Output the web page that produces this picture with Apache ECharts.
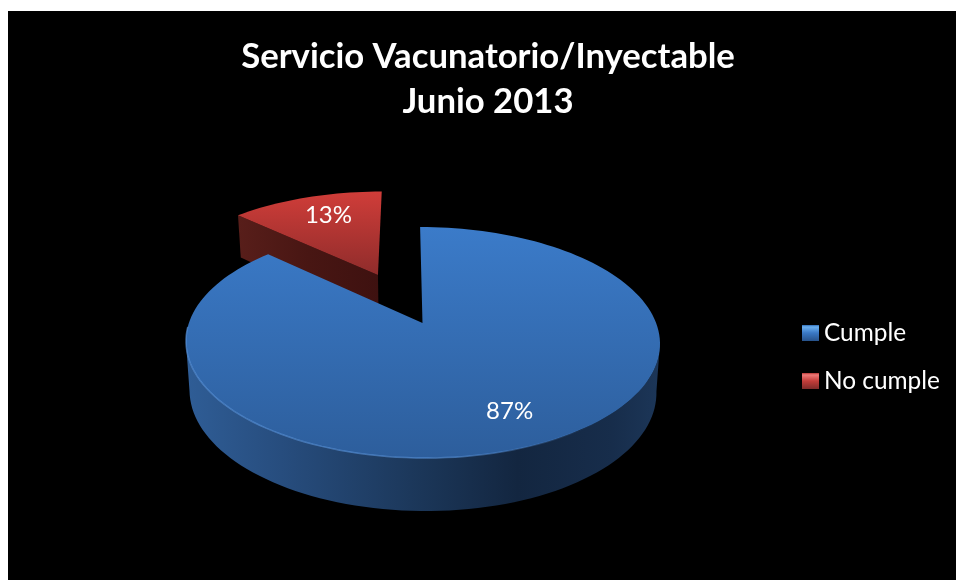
<!DOCTYPE html>
<html>
<head>
<meta charset="utf-8">
<style>
html, body { margin: 0; padding: 0; background: #fff; }
#main { width: 956px; height: 580px; }
</style>
<script src="https://cdn.jsdelivr.net/npm/echarts@6/dist/echarts.min.js"></script>
</head>
<body>
<div id="main"></div>
<script>
var titleText = "Servicio Vacunatorio/Inyectable\nJunio 2013";
var categories = ["Cumple", "No cumple"];
var values = [87, 13];

var FONT = "Lato, Carlito, 'Open Sans', sans-serif";

// disc seen in perspective: the back radius is shorter than the front one
var cx = 422.5, apexY = 323, A = 233.6, B = 112.2, K = 0.169, SHEAR = 0.025;
// pull-out of each slice on the disc plane
var explode = [[0, 0], [-0.2, -0.461]];
var total = values[0] + values[1];

function project(u, v, lower) {
  var w = 1 - K * v;
  var y = apexY + (B * v) / w;
  var x = cx + (A * u) / w + SHEAR * (y - apexY);
  if (lower) {
    x = cx + (x - cx) * 0.985;
    y += 48 + 5 * v;
  }
  return [x, y];
}

// angle in degrees, clockwise from the top of the disc
function rim(deg, off, lower) {
  var t = (deg * Math.PI) / 180;
  return project(off[0] + Math.sin(t), off[1] - Math.cos(t), lower);
}

function arc(from, to, off, lower) {
  var pts = [];
  var n = Math.ceil(Math.abs(to - from) / 2);
  for (var i = 0; i <= n; i++) {
    pts.push(rim(from + ((to - from) * i) / n, off, lower));
  }
  return pts;
}

function hGrad(stops) {
  return new echarts.graphic.LinearGradient(0, 0, 1, 0, stops);
}
function vGrad(stops) {
  return new echarts.graphic.LinearGradient(0, 0, 0, 1, stops);
}

function sliceRange(index) {
  var start = 0;
  for (var i = 0; i < index; i++) start += (values[i] / total) * 360;
  return [start, start + (values[index] / total) * 360];
}

function labelOf(value, off, mid, r, dx) {
  var t = (mid * Math.PI) / 180;
  var p = project(off[0] + r * Math.sin(t), off[1] - r * Math.cos(t));
  return {
    type: "text",
    z2: 10,
    style: {
      text: value + "%",
      x: p[0] + dx,
      y: p[1],
      fill: "#fff",
      font: "24px " + FONT,
      align: "center",
      verticalAlign: "middle"
    }
  };
}

function renderCumple(params, api) {
  var range = sliceRange(0);
  var off = explode[0];
  var side = (Math.acos(-K) * 180) / Math.PI;
  var apex = project(off[0], off[1]);
  var wall = arc(side, 360 - side, off).concat(arc(360 - side, side, off, true));
  var top = [apex].concat(arc(range[0], range[1], off));
  return {
    type: "group",
    children: [
      {
        type: "polygon",
        shape: { points: wall },
        style: {
          fill: hGrad([
            { offset: 0, color: "#2f5d96" },
            { offset: 0.2, color: "#274d7e" },
            { offset: 0.5, color: "#1b3658" },
            { offset: 0.7, color: "#132640" },
            { offset: 0.9, color: "#172d4b" },
            { offset: 1, color: "#1c3658" }
          ])
        }
      },
      {
        type: "polygon",
        shape: { points: top },
        style: {
          fill: vGrad([
            { offset: 0, color: "#3b7bc9" },
            { offset: 1, color: "#2d5e9c" }
          ])
        }
      },
      {
        type: "polyline",
        shape: { points: arc(140, 268, off) },
        style: {
          fill: null,
          lineWidth: 1.5,
          stroke: hGrad([
            { offset: 0, color: "rgba(92,152,226,0.6)" },
            { offset: 0.65, color: "rgba(92,152,226,0.6)" },
            { offset: 1, color: "rgba(92,152,226,0)" }
          ])
        }
      },
      labelOf(api.value(0), off, (range[0] + range[1]) / 2, 0.76, 5)
    ]
  };
}

function renderNoCumple(params, api) {
  var range = sliceRange(1);
  var off = explode[1];
  var apex = project(off[0], off[1]);
  var apexLow = project(off[0], off[1], true);
  var corner = rim(range[0], off);
  var cornerLow = rim(range[0], off, true);
  var top = [apex].concat(arc(range[0], range[1], off));
  return {
    type: "group",
    children: [
      {
        type: "polygon",
        shape: { points: [apex, corner, cornerLow, apexLow] },
        style: {
          fill: hGrad([
            { offset: 0, color: "#581e1a" },
            { offset: 0.5, color: "#481613" },
            { offset: 1, color: "#3e1110" }
          ])
        }
      },
      {
        type: "polygon",
        shape: { points: top },
        style: {
          fill: vGrad([
            { offset: 0, color: "#d03d39" },
            { offset: 1, color: "#8f2c2b" }
          ])
        }
      },
      labelOf(api.value(0), off, (range[0] + range[1]) / 2, 0.75, 6)
    ]
  };
}

var chart = echarts.init(document.getElementById("main"), null, { renderer: "canvas" });
var option = {
  backgroundColor: "#fff",
  animation: false,
  graphic: [
    {
      type: "rect",
      z: -10,
      shape: { x: 8, y: 11, width: 948, height: 569 },
      style: { fill: "#000" }
    }
  ],
  title: {
    text: titleText,
    left: 483,
    top: 29,
    textAlign: "center",
    textStyle: {
      color: "#fff",
      fontFamily: FONT,
      fontWeight: "bold",
      fontSize: 34.7,
      lineHeight: 45
    }
  },
  legend: {
    orient: "vertical",
    left: 797,
    top: 314,
    itemWidth: 17,
    itemHeight: 16,
    itemGap: 20,
    textStyle: { color: "#fff", fontFamily: FONT, fontSize: 24.4, lineHeight: 28, padding: [0, 0, 0, 0] },
    data: [
      {
        name: categories[0],
        icon: "rect",
        itemStyle: {
          color: vGrad([
            { offset: 0, color: "#2e6bb3" },
            { offset: 0.12, color: "#6aaeee" },
            { offset: 0.5, color: "#3a78c4" },
            { offset: 1, color: "#27528a" }
          ])
        }
      },
      {
        name: categories[1],
        icon: "rect",
        itemStyle: {
          color: vGrad([
            { offset: 0, color: "#b33633" },
            { offset: 0.12, color: "#ee7a78" },
            { offset: 0.5, color: "#c23d3a" },
            { offset: 1, color: "#7e2b2a" }
          ])
        }
      }
    ]
  },
  series: [
    {
      name: categories[0],
      type: "custom",
      coordinateSystem: "none",
      z: 3,
      silent: true,
      renderItem: renderCumple,
      data: [[values[0]]]
    },
    {
      name: categories[1],
      type: "custom",
      coordinateSystem: "none",
      z: 2,
      silent: true,
      renderItem: renderNoCumple,
      data: [[values[1]]]
    }
  ]
};
chart.setOption(option);
</script>
</body>
</html>
